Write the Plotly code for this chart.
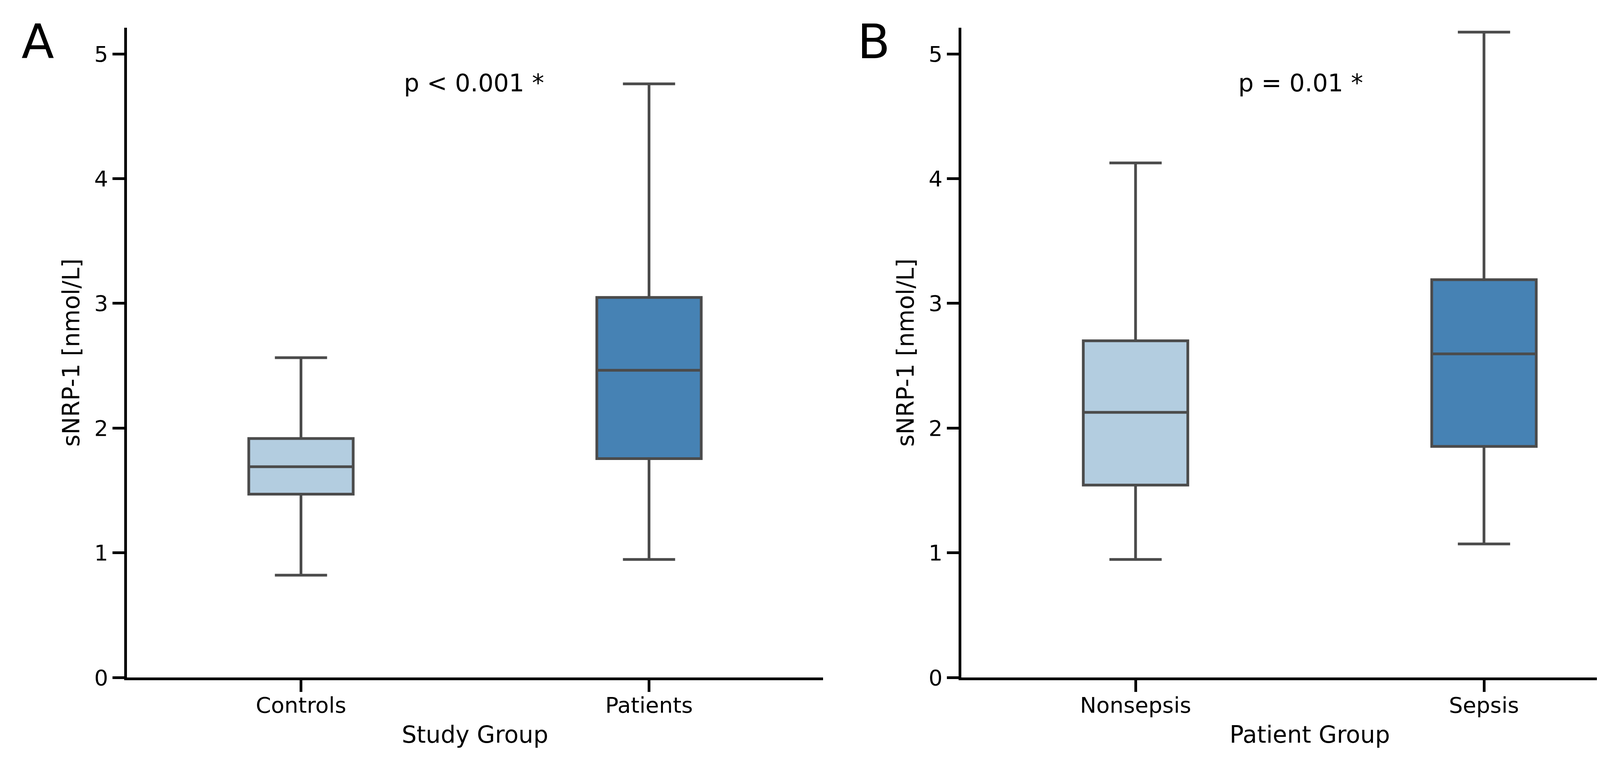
import plotly.graph_objects as go

# ---------------- data ----------------
study_groups = ["Controls", "Patients"]
study_q1 = [1.47, 1.755]
study_median = [1.69, 2.463]
study_q3 = [1.916, 3.047]
study_low = [0.82, 0.946]
study_high = [2.564, 4.76]

patient_groups = ["Nonsepsis", "Sepsis"]
patient_q1 = [1.543, 1.853]
patient_median = [2.126, 2.595]
patient_q3 = [2.70, 3.19]
patient_low = [0.946, 1.071]
patient_high = [4.126, 5.175]

box_colors = ["#b3cde0", "#4682b4"]
y_ticks = [0, 1, 2, 3, 4, 5]
p_texts = ["p < 0.001 *", "p = 0.01 *"]
panel_letters = ["A", "B"]

# ---------------- figure ----------------
W, H = 4279, 1954
ML, MR, MT, MB = 317, 42, 63, 227
PW = W - ML - MR
PH = H - MT - MB

line_col = "#4b4b4b"
font_family = "DejaVu Sans"

fig = go.Figure()

def add_boxes(cats, q1, med, q3, lo, hi, xa, ya):
    for i, c in enumerate(cats):
        fig.add_trace(go.Box(
            x=[c], q1=[q1[i]], median=[med[i]], q3=[q3[i]],
            lowerfence=[lo[i]], upperfence=[hi[i]],
            width=0.3, whiskerwidth=0.5,
            fillcolor=box_colors[i],
            line=dict(color=line_col, width=7),
            boxpoints=False, showlegend=False,
            xaxis=xa, yaxis=ya,
        ))

add_boxes(study_groups, study_q1, study_median, study_q3, study_low, study_high, "x", "y")
add_boxes(patient_groups, patient_q1, patient_median, patient_q3, patient_low, patient_high, "x2", "y2")

axis_common = dict(
    showline=True, linecolor="black", linewidth=7,
    ticks="outside", ticklen=30, tickwidth=7, tickcolor="black",
    showgrid=False, zeroline=False, automargin=False,
    tickfont=dict(family=font_family, size=56, color="black"),
)

xa_dom = [0, (2099 - ML) / PW]
xb_dom = [(2453 - ML) / PW, 1.0]

xtitle_font = dict(family=font_family, size=60, color="black")

fig.update_layout(
    width=W, height=H,
    margin=dict(l=ML, r=MR, t=MT, b=MB),
    paper_bgcolor="white", plot_bgcolor="white",
    boxmode="overlay",
    xaxis=dict(domain=xa_dom, type="category", range=[-0.5, 1.5], anchor="y",
               ticklabelstandoff=-14,
               title=dict(text="Study Group", standoff=25, font=xtitle_font),
               **axis_common),
    yaxis=dict(domain=[0, 1], range=[0, 5.21], tickvals=y_ticks, anchor="x",
               title=dict(text="sNRP-1 [nmol/L]", standoff=21, font=xtitle_font),
               **axis_common),
    xaxis2=dict(domain=xb_dom, type="category", range=[-0.5, 1.5], anchor="y2",
                ticklabelstandoff=-14,
                title=dict(text="Patient Group", standoff=25, font=xtitle_font),
                **axis_common),
    yaxis2=dict(domain=[0, 1], range=[0, 5.21], tickvals=y_ticks, anchor="x2",
                title=dict(text="sNRP-1 [nmol/L]", standoff=21, font=xtitle_font),
                **axis_common),
)

# p-value annotations
for i, (xr, yr) in enumerate([("x", "y"), ("x2", "y2")]):
    fig.add_annotation(x=-0.5 + 0.793, y=4.768, xref=xr, yref=yr,
                       text=p_texts[i], showarrow=False,
                       xanchor="left", yanchor="middle",
                       font=dict(family=font_family, size=62, color="black"))

# panel letters
letter_px = [45, 2185]
for i, lx in enumerate(letter_px):
    fig.add_annotation(x=(lx - ML) / PW, y=1 - (99 - MT) / PH,
                       xref="paper", yref="paper", text=panel_letters[i],
                       showarrow=False, xanchor="left", yanchor="middle",
                       font=dict(family=font_family, size=122, color="black"))

fig.write_html("out.html")
